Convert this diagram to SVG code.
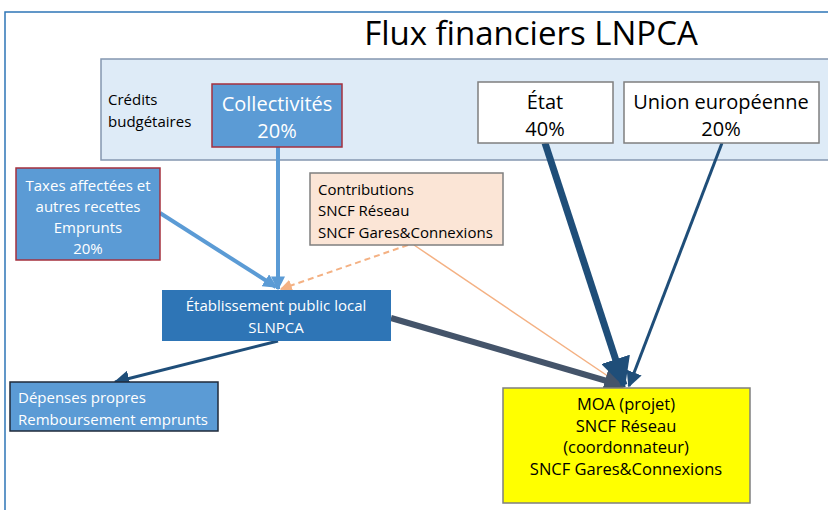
<svg xmlns="http://www.w3.org/2000/svg" width="828" height="510" viewBox="0 0 828 510">
<style>
text{font-family:"Open Sans","Liberation Sans",sans-serif;}
.w{fill:#fff}
.k{fill:#000}
.c{text-anchor:middle}
.s15{font-size:15px}
.s16{font-size:16.5px}
.s19{font-size:20px}
</style>
<defs>
<marker id="mLight" viewBox="0 0 10 10" refX="9" refY="5" markerWidth="14" markerHeight="14" markerUnits="userSpaceOnUse" orient="auto"><path d="M0,0 L10,5 L0,10 z" fill="#5b9bd5"/></marker>
<marker id="mOrange" viewBox="0 0 10 10" refX="9" refY="5" markerWidth="12" markerHeight="12" markerUnits="userSpaceOnUse" orient="auto"><path d="M0,0 L10,5 L0,10 z" fill="#f4b183"/></marker>
<marker id="mSlate" viewBox="0 0 10 10" refX="9" refY="5" markerWidth="22" markerHeight="22" markerUnits="userSpaceOnUse" orient="auto"><path d="M0,0 L10,5 L0,10 z" fill="#44546a"/></marker>
<marker id="mDarkBig" viewBox="0 0 10 10" refX="9" refY="5" markerWidth="30" markerHeight="30" markerUnits="userSpaceOnUse" orient="auto"><path d="M0,0 L10,5 L0,10 z" fill="#1f4e79"/></marker>
<marker id="mDark" viewBox="0 0 10 10" refX="9" refY="5" markerWidth="16" markerHeight="16" markerUnits="userSpaceOnUse" orient="auto"><path d="M0,0 L10,5 L0,10 z" fill="#1f4e79"/></marker>
</defs>
<rect width="828" height="510" fill="#fff"/>
<path d="M5,510 L5,12 L828,12" fill="none" stroke="#2e75b6" stroke-width="1.5"/>
<text x="531" y="45" class="c" style="font-size:33px;fill:#000">Flux financiers LNPCA</text>
<rect id="band" x="101" y="59" width="730" height="101" fill="#deebf7" stroke="#8497b0" stroke-width="1.5"/>
<text x="108" y="105" class="k s15">Crédits</text>
<text x="108" y="127" class="k s15">budgétaires</text>

<g id="connectors" fill="none">
<line x1="278" y1="147" x2="278" y2="289" stroke="#5b9bd5" stroke-width="4" marker-end="url(#mLight)"/>
<line x1="160" y1="213" x2="276" y2="287" stroke="#5b9bd5" stroke-width="4" marker-end="url(#mLight)"/>
<line x1="408" y1="245" x2="281" y2="289" stroke="#f4b183" stroke-width="2" stroke-dasharray="6,4" marker-end="url(#mOrange)"/>
<line x1="414" y1="245" x2="624" y2="387" stroke="#f4b183" stroke-width="1.5"/>
<line x1="391" y1="318" x2="624" y2="386" stroke="#44546a" stroke-width="6" marker-end="url(#mSlate)"/>
<line x1="545" y1="143" x2="624" y2="385" stroke="#1f4e79" stroke-width="7" marker-end="url(#mDarkBig)"/>
<line x1="722" y1="143" x2="629" y2="386" stroke="#1f4e79" stroke-width="3" marker-end="url(#mDark)"/>
<line x1="278" y1="341" x2="115" y2="382" stroke="#1f4e79" stroke-width="3" marker-end="url(#mDark)"/>
</g>

<g id="collectivites">
<rect x="212" y="84" width="130" height="63" fill="#5b9bd5" stroke="#a5303e" stroke-width="1.5"/>
<text x="277" y="111" class="w c s19">Collectivités</text>
<text x="277" y="138" class="w c s19">20%</text>
</g>
<g id="etat">
<rect x="478" y="82" width="135" height="61" fill="#fff" stroke="#7f7f7f" stroke-width="1.5"/>
<text x="545" y="109" class="k c s19">État</text>
<text x="545" y="136" class="k c s19">40%</text>
</g>
<g id="ue">
<rect x="624" y="82" width="195" height="61" fill="#fff" stroke="#7f7f7f" stroke-width="1.5"/>
<text x="721" y="109" class="k c s19">Union européenne</text>
<text x="721" y="136" class="k c s19">20%</text>
</g>
<g id="taxes">
<rect x="16" y="168" width="144" height="92" fill="#5b9bd5" stroke="#a5303e" stroke-width="1.5"/>
<text x="88" y="191" class="w c s15">Taxes affectées et</text>
<text x="88" y="212" class="w c s15">autres recettes</text>
<text x="88" y="233" class="w c s15">Emprunts</text>
<text x="88" y="254" class="w c s15">20%</text>
</g>
<g id="contributions">
<rect x="310" y="173" width="193" height="72" fill="#fbe5d6" stroke="#7f7f7f" stroke-width="1.5"/>
<text x="318" y="195" class="k s15">Contributions</text>
<text x="318" y="216" class="k s15">SNCF Réseau</text>
<text x="318" y="238" class="k s15">SNCF Gares&amp;Connexions</text>
</g>
<g id="etablissement">
<rect x="162" y="290" width="229" height="51" fill="#2e75b6"/>
<text x="276" y="311" class="w c s15">Établissement public local</text>
<text x="276" y="333" class="w c s15">SLNPCA</text>
</g>
<g id="depenses">
<rect x="10" y="382" width="208" height="49" fill="#5b9bd5" stroke="#1f2a3a" stroke-width="1.5"/>
<text x="18" y="403" class="w s15">Dépenses propres</text>
<text x="18" y="425" class="w s15">Remboursement emprunts</text>
</g>
<g id="moa">
<rect x="503" y="388" width="247" height="115" fill="#ffff00" stroke="#7f7f7f" stroke-width="1.5"/>
<text x="626" y="410" class="k c s16">MOA (projet)</text>
<text x="626" y="432" class="k c s16">SNCF Réseau</text>
<text x="626" y="453" class="k c s16">(coordonnateur)</text>
<text x="626" y="475" class="k c s16">SNCF Gares&amp;Connexions</text>
</g>
</svg>
